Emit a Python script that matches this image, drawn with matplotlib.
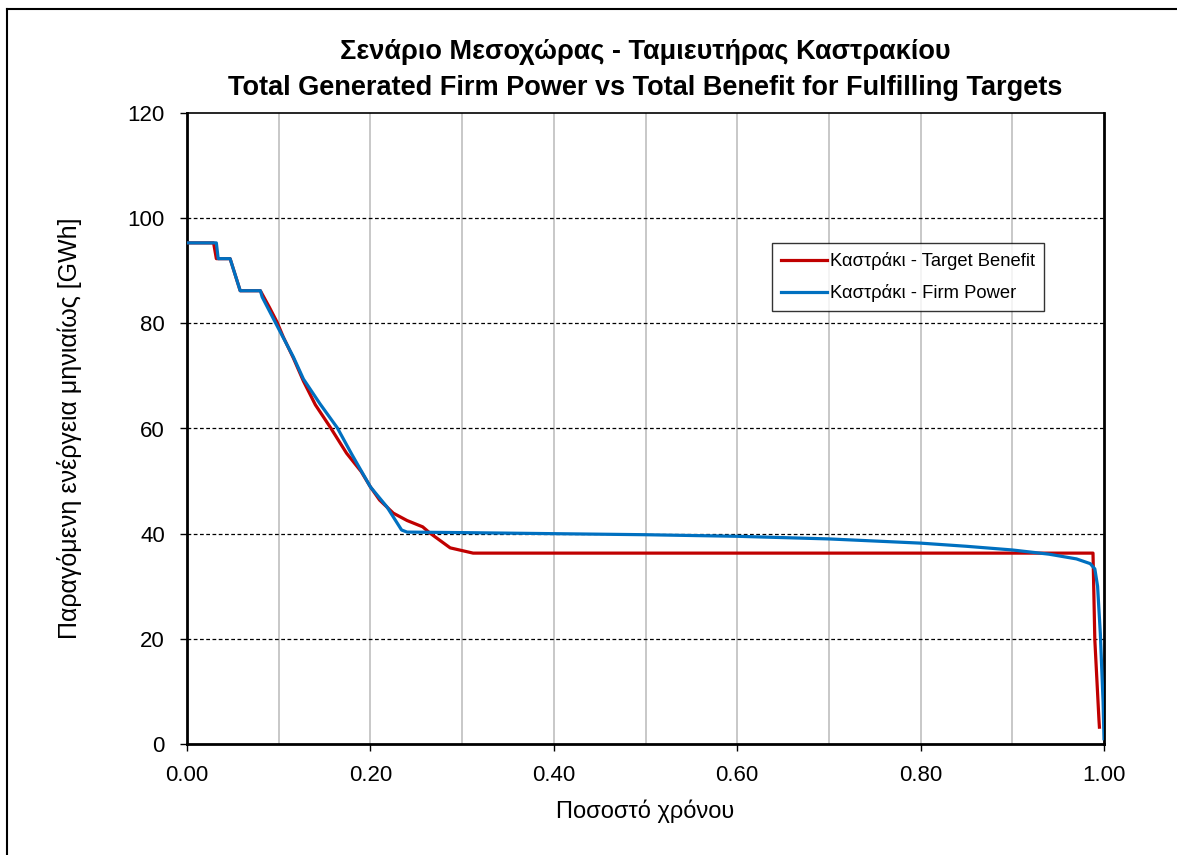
import matplotlib
matplotlib.use("Agg")
import matplotlib.pyplot as plt
from matplotlib.lines import Line2D
from matplotlib.ticker import MultipleLocator, FormatStrFormatter

plt.rcParams['font.family'] = ['Liberation Sans', 'DejaVu Sans']

# Share of time (exceedance) and monthly energy [GWh]
benefit_x = [0.0, 0.029, 0.032, 0.047, 0.058, 0.080, 0.090, 0.098, 0.105, 0.116,
             0.127, 0.140, 0.156, 0.174, 0.190, 0.200, 0.210, 0.225, 0.240, 0.257,
             0.265, 0.287, 0.312, 0.988, 0.990, 0.9945, 0.995]
benefit_y = [95.3, 95.3, 92.3, 92.3, 86.2, 86.2, 83.0, 80.3, 77.4, 73.4,
             69.0, 64.5, 60.3, 55.3, 51.8, 48.9, 46.4, 43.9, 42.5, 41.3,
             40.1, 37.3, 36.3, 36.3, 19.8, 4.6, 3.2]

firm_x = [0.0, 0.032, 0.034, 0.047, 0.058, 0.080, 0.082, 0.101, 0.116, 0.127,
          0.145, 0.164, 0.180, 0.200, 0.218, 0.234, 0.240, 0.300, 0.400, 0.500,
          0.600, 0.700, 0.800, 0.850, 0.900, 0.940, 0.970, 0.985, 0.990, 0.993,
          0.996, 0.999, 1.000]
firm_y = [95.3, 95.3, 92.3, 92.3, 86.2, 86.2, 85.0, 78.6, 73.6, 69.4,
          64.7, 60.1, 55.0, 48.9, 45.1, 40.7, 40.3, 40.2, 40.0, 39.8,
          39.5, 39.0, 38.2, 37.6, 36.9, 36.1, 35.2, 34.3, 33.3, 30.0,
          21.0, 8.0, 1.0]

series_labels = ['Καστράκι - Target Benefit', 'Καστράκι - Firm Power']
title_lines = ['Σενάριο Μεσοχώρας - Ταμιευτήρας Καστρακίου',
               'Total Generated Firm Power vs Total Benefit for Fulfilling Targets']
x_label = 'Ποσοστό χρόνου'
y_label = 'Παραγόμενη ενέργεια μηνιαίως [GWh]'

W, H = 1177, 855
fig = plt.figure(figsize=(W / 100, H / 100), dpi=100)
ax = fig.add_axes([187 / W, 1 - 744 / H, (1104 - 187) / W, (744 - 113) / H])

ax.plot(benefit_x, benefit_y, color='#C00000', lw=2.3, label=series_labels[0],
        solid_joinstyle='round', zorder=3)
ax.plot(firm_x, firm_y, color='#0070C0', lw=2.3, label=series_labels[1],
        solid_joinstyle='round', zorder=4)

ax.set_xlim(0, 1)
ax.set_ylim(0, 120)
ax.xaxis.set_major_locator(MultipleLocator(0.2))
ax.xaxis.set_minor_locator(MultipleLocator(0.1))
ax.yaxis.set_major_locator(MultipleLocator(20))
ax.xaxis.set_major_formatter(FormatStrFormatter('%.2f'))

# vertical grid at every 0.1, dashed horizontal grid at every 20
for xv in [i / 10 for i in range(1, 10)]:
    ax.axvline(xv, color='#C8C8C8', lw=1.4, zorder=1)
for yv in range(20, 120, 20):
    ax.axhline(yv, color='black', lw=0.9, ls=(0, (3, 2)), zorder=1)

for s in ax.spines.values():
    s.set_color('black')
    s.set_linewidth(2.0)
ax.spines['top'].set_linewidth(1.2)

ax.tick_params(axis='both', which='major', direction='out', length=5, width=1,
               labelsize=16, colors='black')
ax.tick_params(axis='x', which='minor', length=0)
ax.tick_params(axis='x', pad=10)
ax.tick_params(axis='y', pad=11)

ax.set_xlabel(x_label, fontsize=17, labelpad=10)
ax.set_ylabel(y_label, fontsize=18, labelpad=33)

fig.text(645 / W, 1 - 52 / H, title_lines[0], ha='center', va='center',
         fontsize=19.5, fontweight='bold')
fig.text(645 / W, 1 - 88 / H, title_lines[1], ha='center', va='center',
         fontsize=19.5, fontweight='bold')

leg = ax.legend(loc='upper left', bbox_to_anchor=((772 - 187) / 917, (744 - 243) / 631),
                borderaxespad=0, fontsize=13.2, frameon=True, fancybox=False,
                handlelength=2.5, borderpad=0.5, labelspacing=0.75,
                handletextpad=0.15)
leg.get_frame().set_edgecolor('black')
leg.get_frame().set_linewidth(1.0)

# outer frame lines along top and left edges
fig.add_artist(Line2D([7 / W, 7 / W], [0, 1 - 9 / H], color='black', lw=1.5,
                      transform=fig.transFigure))
fig.add_artist(Line2D([7 / W, 1], [1 - 9 / H, 1 - 9 / H], color='black', lw=1.5,
                      transform=fig.transFigure))

fig.savefig('out.png', dpi=100)
